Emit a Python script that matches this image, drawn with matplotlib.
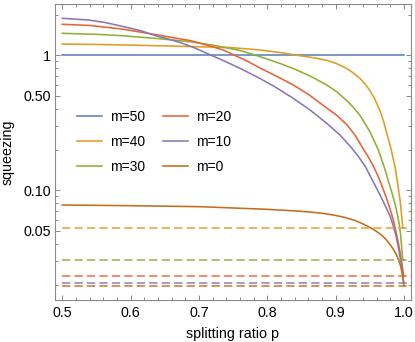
import matplotlib
matplotlib.use("Agg")
import matplotlib.pyplot as plt
from matplotlib.ticker import NullFormatter

plt.rcParams['font.family'] = ['Liberation Sans', 'DejaVu Sans']

labels = ["m=50", "m=40", "m=30", "m=20", "m=10", "m=0"]
colors = ["#5E81B5", "#E19C24", "#8FB032", "#EB6235", "#8778B3", "#C56E1A"]

p_m50 = [0.5, 0.75, 1.0]
v_m50 = [1.0, 1.0, 1.0]

p_m40 = [0.5, 0.5552, 0.6138, 0.6723, 0.7163, 0.7456, 0.7895, 0.8188, 0.8481,
         0.8700, 0.8871, 0.9007, 0.9114, 0.9212, 0.9285, 0.9359, 0.9432, 0.9505,
         0.9578, 0.9651, 0.9703, 0.9750, 0.9783, 0.9813, 0.9842, 0.9871, 0.9893,
         0.9915, 0.9930, 0.9944, 0.9959, 0.9969, 0.9977, 0.9984, 1.0]
v_m40 = [1.212, 1.202, 1.186, 1.166, 1.152, 1.142, 1.095, 1.049, 0.993,
         0.955, 0.918, 0.871, 0.824, 0.771, 0.724, 0.673, 0.614, 0.547,
         0.471, 0.389, 0.325, 0.2644, 0.230, 0.2022, 0.1735, 0.1488, 0.1276,
         0.1076, 0.0955, 0.0847, 0.0727, 0.0637, 0.0582, 0.0528, 0.0528]

p_m30 = [0.5, 0.5552, 0.587, 0.6357, 0.6870, 0.7236, 0.7602, 0.7821, 0.7968,
         0.8188, 0.8382, 0.8626, 0.8871, 0.9022, 0.9164, 0.9256, 0.9359, 0.9432,
         0.9505, 0.9564, 0.9627, 0.9666, 0.9700, 0.9739, 0.9783, 0.9827, 0.9871,
         0.9900, 0.9930, 0.9952, 0.9966, 0.9978, 0.9985, 1.0]
v_m30 = [1.455, 1.426, 1.397, 1.336, 1.261, 1.182, 1.085, 1.005, 0.950,
         0.870, 0.798, 0.703, 0.603, 0.535, 0.4625, 0.414, 0.358, 0.3125,
         0.2703, 0.2338, 0.1988, 0.175, 0.1553, 0.1343, 0.1132, 0.0955, 0.0791,
         0.0685, 0.0572, 0.0475, 0.0393, 0.0332, 0.0303, 0.0303]

p_m20 = [0.5, 0.5406, 0.587, 0.6138, 0.6357, 0.665, 0.687, 0.7089, 0.7357,
         0.7529, 0.7719, 0.7895, 0.8129, 0.8382, 0.8626, 0.8871, 0.9022, 0.9164,
         0.9285, 0.9407, 0.9476, 0.9553, 0.9622, 0.9681, 0.975, 0.9798, 0.9846,
         0.9886, 0.9920, 0.9944, 0.9966, 0.9984, 0.9996, 1.0]
v_m20 = [1.697, 1.663, 1.566, 1.488, 1.426, 1.343, 1.287, 1.202, 1.095,
         0.997, 0.900, 0.805, 0.703, 0.603, 0.504, 0.407, 0.358, 0.307,
         0.2568, 0.2022, 0.178, 0.1514, 0.1276, 0.1076, 0.0862, 0.0727, 0.0603,
         0.0491, 0.0407, 0.0349, 0.0299, 0.0261, 0.0233, 0.0233]

p_m10 = [0.5, 0.5381, 0.5625, 0.587, 0.6138, 0.6357, 0.6577, 0.6723, 0.6943,
         0.7114, 0.7338, 0.7602, 0.7895, 0.8129, 0.8382, 0.8626, 0.8871, 0.9066,
         0.9237, 0.9329, 0.9432, 0.952, 0.9603, 0.9681, 0.9739, 0.9798, 0.9842,
         0.9886, 0.9922, 0.9952, 0.9974, 0.9991, 1.0]
v_m10 = [1.879, 1.826, 1.750, 1.643, 1.526, 1.402, 1.309, 1.244, 1.133,
         1.035, 0.923, 0.801, 0.673, 0.5775, 0.480, 0.3934, 0.3135, 0.2568,
         0.2057, 0.1795, 0.1514, 0.1244, 0.1031, 0.0862, 0.0746, 0.0645, 0.0553,
         0.0459, 0.0374, 0.0305, 0.0257, 0.022, 0.0205]

p_m0 = [0.5, 0.5991, 0.7016, 0.7993, 0.8481, 0.8773, 0.8968, 0.914, 0.9286,
        0.9388, 0.9505, 0.9603, 0.9681, 0.9739, 0.9798, 0.9849, 0.9893, 0.9922,
        0.9952, 0.9974, 0.9988, 0.9996, 1.0]
v_m0 = [0.0778, 0.0769, 0.0756, 0.0723, 0.070, 0.0679, 0.0656, 0.0629, 0.0597,
        0.0568, 0.053, 0.0495, 0.0463, 0.0432, 0.0397, 0.0364, 0.0332, 0.0305,
        0.0275, 0.0246, 0.0224, 0.0206, 0.0197]

# limits at p = 1 (dashed reference lines)
dash_labels = ["m=40", "m=30", "m=20", "m=10", "m=0"]
dash_values = [0.0528, 0.0303, 0.0233, 0.0205, 0.0197]
dash_colors = ["#E19C24", "#8FB032", "#EB6235", "#8778B3", "#C56E1A"]

x_ticks = [0.5, 0.6, 0.7, 0.8, 0.9, 1.0]
x_ticklabels = ["0.5", "0.6", "0.7", "0.8", "0.9", "1.0"]
y_ticks = [0.05, 0.1, 0.5, 1.0]
y_ticklabels = ["0.05", "0.10", "0.50", "1"]
y_minor = [0.02, 0.03, 0.04, 0.06, 0.07, 0.08, 0.09,
           0.2, 0.3, 0.4, 0.6, 0.7, 0.8, 0.9, 2.0]

series_p = [p_m50, p_m40, p_m30, p_m20, p_m10, p_m0]
series_v = [v_m50, v_m40, v_m30, v_m20, v_m10, v_m0]

W, H = 415, 342
fig = plt.figure(figsize=(W / 100, H / 100), dpi=100)
L, R, T, B = 54.5, 411.0, 4.0, 300.0
ax = fig.add_axes([L / W, 1 - B / H, (R - L) / W, (B - T) / H])

lw = 1.15
xmin, xmax = 0.4886, 1.0105
for p, v, c, lab in zip(series_p, series_v, colors, labels):
    ax.plot(p, v, color=c, lw=lw, label=lab, solid_joinstyle='round')
for val, c in zip(dash_values, dash_colors):
    ax.plot([0.5, xmax], [val, val], color=c, lw=lw, dashes=(5.2, 2.6), alpha=0.9)

ax.set_yscale('log')
ax.set_xlim(xmin, xmax)
ax.set_ylim(0.01539, 2.399)

ax.set_xticks(x_ticks)
ax.set_xticklabels(x_ticklabels)
minor_x = [round(0.5 + 0.02 * i, 2) for i in range(26) if i % 5 != 0]
ax.set_xticks(minor_x, minor=True)

ax.set_yticks(y_ticks)
ax.set_yticklabels(y_ticklabels)
ax.set_yticks(y_minor, minor=True)
ax.yaxis.set_minor_formatter(NullFormatter())

fc = '#8a8a8a'
for s in ax.spines.values():
    s.set_color(fc)
    s.set_linewidth(0.8)
ax.tick_params(which='both', direction='in', top=True, right=True,
               color=fc, width=0.7, labelsize=10.3, labelcolor='black')
ax.tick_params(which='major', length=3.8)
ax.tick_params(axis='y', which='major', pad=2.5)
ax.tick_params(axis='x', which='major', pad=4.5)
ax.tick_params(which='minor', length=2.1)

ax.set_xlabel("splitting ratio p", fontsize=10.3)
ax.set_ylabel("squeezing", fontsize=10.3)
ax.xaxis.set_label_coords(0.5, -0.09)
ax.yaxis.set_label_coords(-0.112, 0.5)

leg = ax.legend(ncol=2, loc='center left', bbox_to_anchor=(0.0623, 0.535),
                frameon=False, fontsize=10, handlelength=1.8, handletextpad=0.6,
                columnspacing=1.25, labelspacing=0.8, borderpad=0, borderaxespad=0)

fig.savefig("out.png", dpi=100)
